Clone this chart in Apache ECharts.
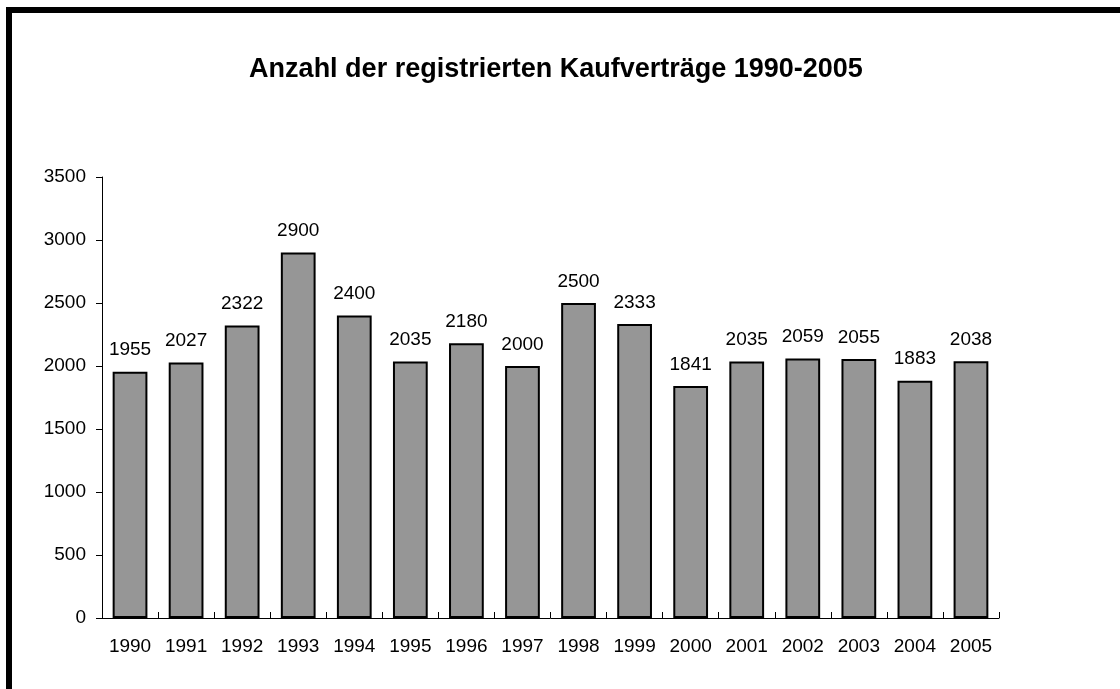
<!doctype html>
<html lang="de">
<head>
	<meta charset="UTF-8">
	<title>Anzahl der registrierten Kaufverträge 1990-2005</title>
	<script src="https://cdn.jsdelivr.net/npm/echarts@6/dist/echarts.min.js"></script>
	<style>
		html,
		body {
			margin: 0;
			padding: 0;
			width: 100%;
			height: 100%;
			background: #fff;
		}

		#main {
			width: 1120px;
			height: 689px;
		}
	</style>
</head>
<body>
	<div id="main"></div>
	<script type="text/javascript">
		var years = ['1990', '1991', '1992', '1993', '1994', '1995', '1996', '1997',
			'1998', '1999', '2000', '2001', '2002', '2003', '2004', '2005'];
		var contracts = [1955, 2027, 2322, 2900, 2400, 2035, 2180, 2000,
			2500, 2333, 1841, 2035, 2059, 2055, 1883, 2038];

		var myChart = echarts.init(document.getElementById('main'));
		var font = 'Liberation Sans, Arial, sans-serif';

		option = {
			animation: false,
			title: {
				text: 'Anzahl der registrierten Kaufverträge 1990-2005',
				left: 551,
				textAlign: 'center',
				top: 51,
				textStyle: { fontFamily: font, fontSize: 27, fontWeight: 'bold', color: '#000' }
			},
			graphic: [{
				type: 'rect',
				shape: { x: 9, y: 10, width: 1300, height: 900 },
				style: { fill: 'none', stroke: '#000', lineWidth: 6 },
				silent: true
			}],
			grid: { left: 102, right: 121, top: 177, bottom: 71 },
			xAxis: {
				type: 'category',
				data: years,
				axisLine: { lineStyle: { color: '#000', width: 1 } },
				axisTick: { show: true, inside: true, length: 6, lineStyle: { color: '#000' } },
				axisLabel: { color: '#000', fontFamily: font, fontSize: 19, margin: 19 }
			},
			yAxis: {
				type: 'value',
				min: 0,
				max: 3500,
				interval: 500,
				splitLine: { show: false },
				axisLine: { show: true, lineStyle: { color: '#000', width: 1 } },
				axisTick: { show: true, length: 6, lineStyle: { color: '#000' } },
				axisLabel: {
					color: '#000', fontFamily: font, fontSize: 19, margin: 16,
					formatter: function (v) { return String(v); }
				}
			},
			series: [{
				type: 'bar',
				data: contracts,
				barCategoryGap: '38%',
				itemStyle: { color: '#969696', borderColor: '#000', borderWidth: 2 },
				label: {
					show: true,
					position: 'top',
					distance: 12,
					color: '#000',
					fontFamily: font,
					fontSize: 19
				}
			}]
		};
		myChart.setOption(option);
	</script>
</body>
</html>
